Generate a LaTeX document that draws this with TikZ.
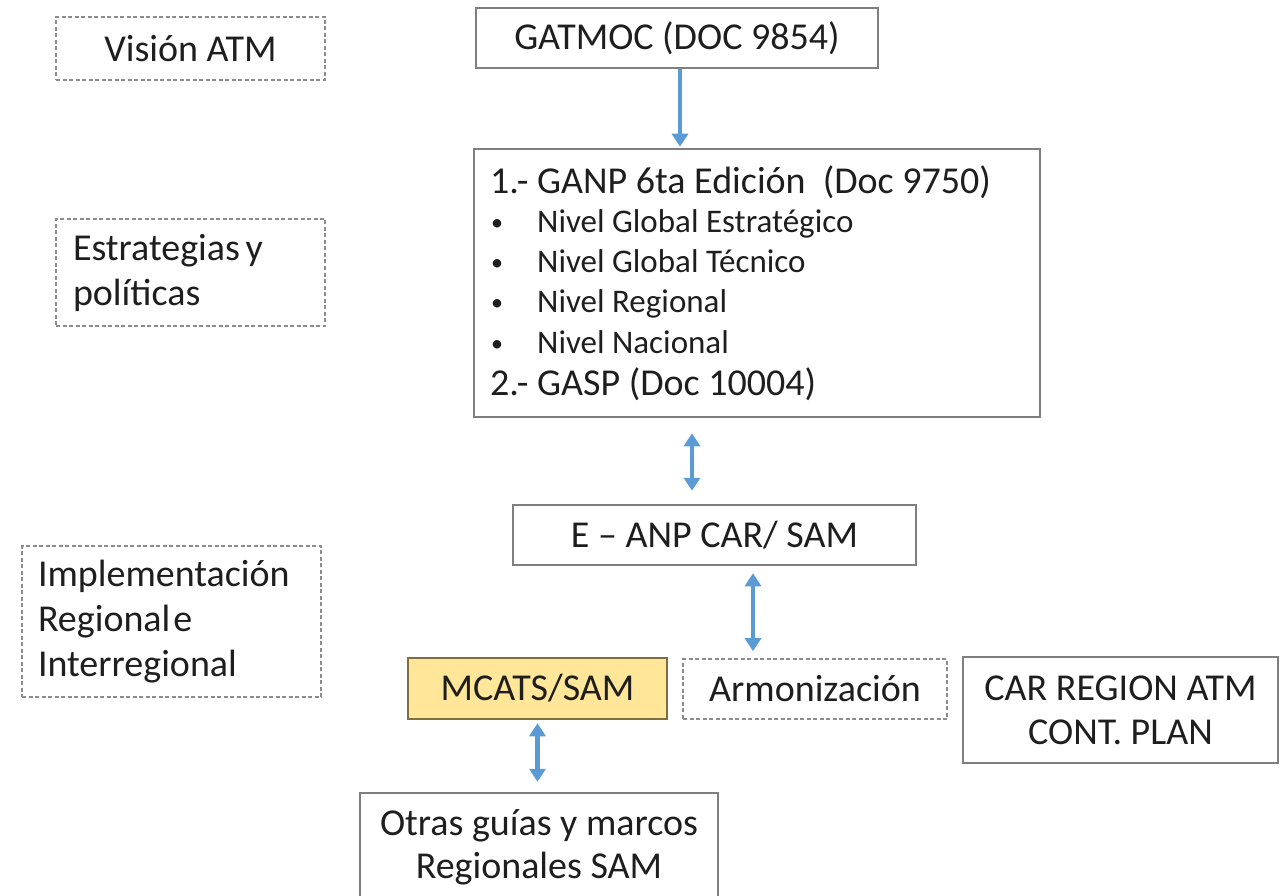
\documentclass[tikz,border=0pt]{standalone}
\usepackage{fontspec}
\setmainfont{Carlito}
\usetikzlibrary{arrows.meta,calc}
\definecolor{boxline}{HTML}{7F7F7F}
\definecolor{dashline}{HTML}{8C8C8C}
\definecolor{arrblue}{HTML}{5B9BD5}
\definecolor{mcfill}{HTML}{FFE699}
\definecolor{mcline}{HTML}{7F6F3F}
\definecolor{txt}{HTML}{1E1E1E}
\tikzset{
  big/.style={font=\fontsize{38}{45}\selectfont},
  small/.style={font=\fontsize{33}{40}\selectfont},
  solidbox/.style={draw=boxline, line width=2.5pt, rectangle, inner sep=0pt, text=txt, big, align=center},
  dashbox/.style={draw=dashline, line width=1.6pt, dash pattern=on 4pt off 2.5pt, rectangle, inner sep=0pt, text=txt, big},
  yellowbox/.style={draw=mcline, fill=mcfill, line width=2.5pt, rectangle, inner sep=0pt, text=txt, big},
  txtline/.style={text=txt, inner sep=0pt, anchor=base west},
  bul/.style={text=txt, inner sep=0pt, anchor=base west, font=\fontsize{24}{28}\selectfont},
  arr/.style={draw=arrblue, line width=4.5pt, -{Triangle[width=16pt,length=13pt]}},
  darr/.style={draw=arrblue, line width=4.5pt, {Triangle[width=16pt,length=13pt]}-{Triangle[width=16pt,length=13pt]}},
}
\begin{document}
\begin{tikzpicture}[x=1pt,y=-1pt]
\useasboundingbox (0,0) rectangle (1286,896);
% left labels
\node[dashbox, minimum width=269, minimum height=63] (vision) at (190.5,48.5) {Visión ATM};
\node[dashbox, minimum width=269, minimum height=107, text width=235, inner xsep=17, align=left] (estr) at (190.5,272.5) {Estrategias\hspace{0.15em}y\\políticas};
\node[dashbox, minimum width=299, minimum height=151, text width=267, inner xsep=16, align=left] (impl) at (171.5,621.5) {Implementación\\Regional\hspace{0.08em}e\\Interregional};
% main column
\node[solidbox, minimum width=402, minimum height=60] (gatmoc) at (677,38) {GATMOC (DOC 9854)};
\node[solidbox, minimum width=566, minimum height=268] (ganp) at (757,283) {};
\node[txtline, big] (g1) at (490,193.5) {1.- GANP 6ta Edición\ \ (Doc 9750)};
\node[bul] (b1) at (491,230.6) {•};
\node[txtline, small] (g2) at (537,232.6) {Nivel Global Estratégico};
\node[bul] (b2) at (491,270.6) {•};
\node[txtline, small] (g3) at (537,272.6) {Nivel Global Técnico};
\node[bul] (b3) at (491,310.6) {•};
\node[txtline, small] (g4) at (537,312.6) {Nivel Regional};
\node[bul] (b4) at (491,351.6) {•};
\node[txtline, small] (g5) at (537,353.6) {Nivel Nacional};
\node[txtline, big] (g6) at (490,395.5) {2.- GASP (Doc 10004)};
\node[solidbox, minimum width=403, minimum height=60] (eanp) at (714.5,535) {E – ANP CAR/ SAM};
\node[yellowbox, minimum width=259, minimum height=61] (mcats) at (537.5,688.5) {MCATS/SAM};
\node[dashbox, minimum width=264, minimum height=60] (armon) at (815,689) {Armonización};
\node[solidbox, minimum width=315, minimum height=106, font=\fontsize{38}{44}\selectfont] (car) at (1120.5,710) {CAR REGION ATM\\CONT. PLAN};
\node[solidbox, minimum width=358, minimum height=109, font=\fontsize{38}{43}\selectfont] (otras) at (539,847.5) {Otras guías y marcos\\Regionales SAM};
% connectors
\draw[arr, shorten <=0pt, shorten >=1pt] ([xshift=3]gatmoc.south) -- ([xshift=3]gatmoc.south |- ganp.north);
\draw[darr, shorten <=15pt, shorten >=13pt] ([xshift=-65]ganp.south) -- ([xshift=-65]ganp.south |- eanp.north);
\draw[darr, shorten <=7pt, shorten >=7pt] ([xshift=38.5]eanp.south) -- ([xshift=38.5]eanp.south |- armon.north);
\draw[darr, shorten <=3pt, shorten >=10pt] (mcats.south) -- (mcats.south |- otras.north);
\end{tikzpicture}
\end{document}
